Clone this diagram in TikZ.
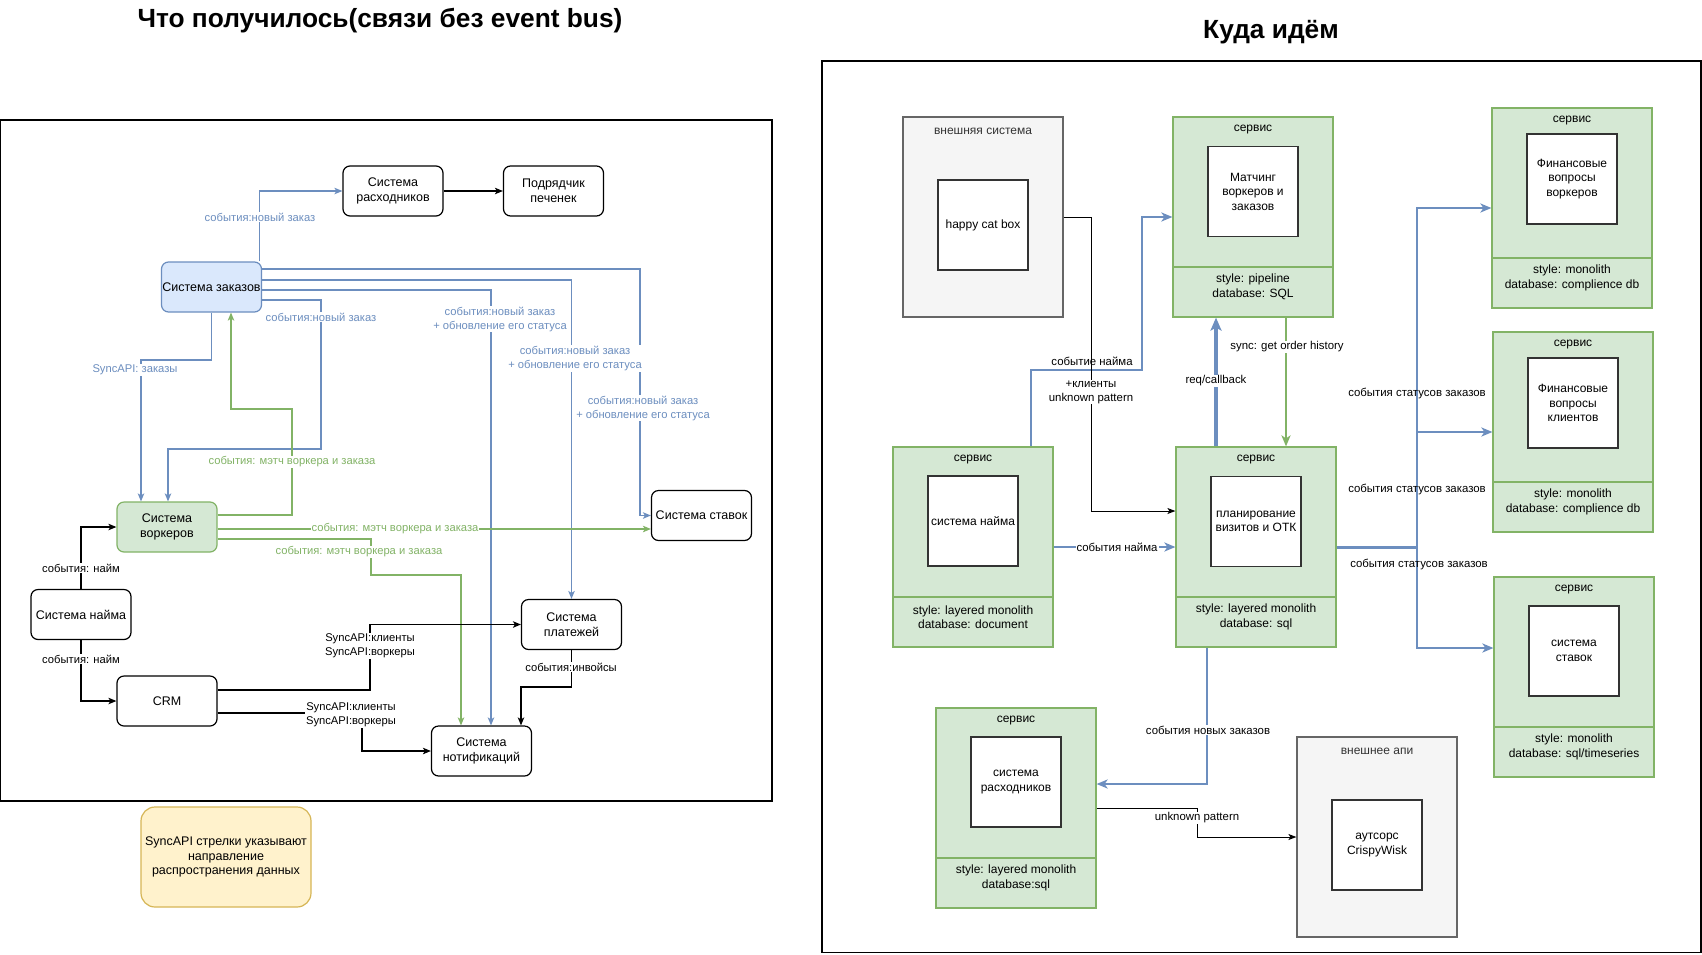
\documentclass[tikz,border=0pt]{standalone}
\usepackage{fontspec}
\setmainfont{Liberation Sans}
\usetikzlibrary{arrows.meta}
\definecolor{gfill}{HTML}{D5E8D4}
\definecolor{gline}{HTML}{82B366}
\definecolor{bfill}{HTML}{DAE8FC}
\definecolor{bline}{HTML}{6C8EBF}
\definecolor{grfill}{HTML}{F5F5F5}
\definecolor{grline}{HTML}{666666}
\definecolor{yfill}{HTML}{FFF2CC}
\definecolor{yline}{HTML}{D6B656}
\definecolor{dtext}{HTML}{333333}
\newcommand{\svcnode}[6]{%
 \node[svcbox] (#1) at (#2+80,#3+100) {};
 \draw[draw=gline, line width=1.2pt] (#2,#3+150) -- (#2+160,#3+150);
 \node[hdr] (#1-h) at (#2+80,#3+13) {сервис};
 \node[inbox] (#1-i) at (#2+80,#3+#6) {#4};
 \node[stl] (#1-s) at (#2+80,#3+170) {#5};
}
\newcommand{\extnode}[5]{%
 \node[extbox] (#1) at (#2+80,#3+100) {};
 \node[hdr, text=dtext] (#1-h) at (#2+80,#3+14) {#4};
 \node[inbox] (#1-i) at (#2+80,#3+108) {#5};
}
\begin{document}
\begin{tikzpicture}[x=1pt,y=-1pt,
 lbox/.style={draw, rounded corners=7pt, line width=1.2pt, minimum width=100pt, minimum height=50pt, align=center, font=\fontsize{12.5}{15}\selectfont, inner sep=0pt},
 blu/.style={draw=bline, line width=1.2pt},
 grn/.style={draw=gline, line width=1.2pt},
 blk/.style={draw=black, line width=1.2pt},
 arr/.style={-{Stealth[length=8pt,width=6.5pt,inset=2pt]}},
 llab/.style={fill=white, inner sep=1pt, font=\fontsize{11.2}{14}\selectfont, align=center},
 svcbox/.style={draw=gline, fill=gfill, line width=1.2pt, minimum width=160pt, minimum height=200pt, inner sep=0pt},
 extbox/.style={draw=grline, fill=grfill, line width=1.2pt, minimum width=160pt, minimum height=200pt, inner sep=0pt},
 inbox/.style={draw=dtext, fill=white, line width=1.2pt, minimum width=90pt, minimum height=90pt, align=center, font=\fontsize{12}{14.5}\selectfont, inner sep=0pt},
 hdr/.style={font=\fontsize{12}{14.5}\selectfont, inner sep=0pt},
 stl/.style={font=\fontsize{12}{14.5}\selectfont, align=center, inner sep=0pt},
 rblu/.style={draw=bline, line width=2pt},
 rgrn/.style={draw=gline, line width=2pt},
 rblk/.style={draw=black, line width=1pt},
 arrB/.style={-{Stealth[length=11pt,width=9pt,inset=3pt]}},
 arrS/.style={-{Stealth[length=8pt,width=6pt,inset=2pt]}},
 rlab/.style={fill=white, inner sep=1pt, font=\fontsize{11.4}{14}\selectfont, align=center},
 rlabn/.style={inner sep=1pt, font=\fontsize{11.4}{14}\selectfont, align=center},
 ttl/.style={font=\bfseries\fontsize{26.3}{30}\selectfont}
]
\useasboundingbox (0,0) rectangle (1702,954);
\fill[white] (0,0) rectangle (1702,954);

% titles
\node[ttl] (t1) at (380,21) {Что получилось(связи без event bus)};
\node[ttl] (t2) at (1271,32) {Куда идём};

% ===== left diagram =====
\draw[line width=1.2pt] (0.6,120) rectangle (772,801);

\node[lbox] (rasx) at (393,191) {Система\\расходников};
\node[lbox] (podr) at (553.5,191) {Подрядчик\\печенек};
\node[lbox, fill=bfill, draw=bline] (zak) at (211.5,287) {Система заказов};
\node[lbox, fill=gfill, draw=gline] (work) at (167,527) {Система\\воркеров};
\node[lbox] (stavki) at (701.5,515.5) {Система ставок};
\node[lbox] (najm) at (81,614.5) {Система найма};
\node[lbox] (plat) at (571.5,624.5) {Система\\платежей};
\node[lbox] (crm) at (167,701) {CRM};
\node[lbox] (notif) at (481.5,751) {Система\\нотификаций};
\node[lbox, fill=yfill, draw=yline, minimum width=170pt, minimum height=100pt, rounded corners=14pt, font=\fontsize{12.5}{14.5}\selectfont] (note) at (226,857) {SyncAPI стрелки указывают\\направление\\распространения данных};

\draw[blu,arr] ([xshift=48pt]zak.north) |- (rasx.west);
\draw[blu,arr] ([yshift=18pt]zak.east) -| (640,515.5) -- (stavki.west);
\draw[blu,arr] ([yshift=7pt]zak.east) -| (plat.north);
\draw[blu,arr] ([yshift=-3pt]zak.east) -| ([xshift=9.5pt]notif.north);
\draw[blu,arr] ([yshift=-13pt]zak.east) -| (321,449) -| ([xshift=1pt]work.north);
\draw[blu,arr] (zak.south) |- (141,360) -- ([xshift=-26pt]work.north);
\draw[grn,arr] ([yshift=12pt]work.east) -| (292,409) -| ([xshift=19.5pt]zak.south);
\draw[grn,arr] ([yshift=-2pt]work.east) -- ([yshift=-2pt]work.east -| stavki.west);
\draw[grn,arr] ([yshift=-12pt]work.east) -| (371,575) -| ([xshift=-20.5pt]notif.north);
\draw[blk,arr] (najm.north) |- (work.west);
\draw[blk,arr] (najm.south) |- (crm.west);
\draw[blk,arr] ([yshift=11pt]crm.east) -| (370,624.5) -- (plat.west);
\draw[blk,arr] ([yshift=-12pt]crm.east) -| (362,751) -- (notif.west);
\draw[blk,arr] (plat.south) |- (521,687) -- ([xshift=39.5pt]notif.north);
\draw[blk,arr] (rasx.east) -- (podr.west);

\node[llab, text=bline] (l1) at (260,217) {события:новый заказ};
\node[llab, text=bline] (l2) at (321,317) {события:новый заказ};
\node[llab, text=bline] (l3) at (500,319) {события:новый заказ\\+ обновление его статуса};
\node[llab, text=bline] (l4) at (575,358.5) {события:новый заказ\\+ обновление его статуса};
\node[llab, text=bline] (l5) at (643,408) {события:новый заказ\\+ обновление его статуса};
\node[llab, text=bline] (l6) at (135,370) {SyncAPI: заказы};
\node[llab, text=gline] (l7) at (292,462) {события: мэтч воркера и заказа};
\node[llab, text=gline] (l8) at (395,529) {события: мэтч воркера и заказа};
\node[llab, text=gline] (l9) at (359,552) {события: мэтч воркера и заказа};
\node[llab] (l10) at (81,568) {события: найм};
\node[llab] (l11) at (81,659) {события: найм};
\node[llab] (l12) at (370,646) {SyncAPI:клиенты\\SyncAPI:воркеры};
\node[llab] (l13) at (351,715) {SyncAPI:клиенты\\SyncAPI:воркеры};
\node[llab] (l14) at (571,667) {события:инвойсы};

% ===== right diagram =====
\draw[line width=1.2pt] (822,61) rectangle (1701,952.5);

\extnode{ext}{903}{117}{внешняя система}{happy cat box}
\extnode{extapi}{1297}{737}{внешнее апи}{аутсорс\\CrispyWisk}
\svcnode{match}{1173}{117}{Матчинг\\воркеров и\\заказов}{style: pipeline\\database: SQL}{74.5}
\svcnode{finw}{1492}{108}{Финансовые\\вопросы\\воркеров}{style: monolith\\database: complience db}{71}
\svcnode{fincl}{1493}{332}{Финансовые\\вопросы\\клиентов}{style: monolith\\database: complience db}{71}
\svcnode{stav}{1494}{577}{система\\ставок}{style: monolith\\database: sql/timeseries}{74}
\svcnode{hire}{893}{447}{система найма}{style: layered monolith\\database: document}{74}
\svcnode{plan}{1176}{447}{планирование\\визитов и ОТК}{style: layered monolith\\database: sql}{74.5}
\svcnode{rasr}{936}{708}{система\\расходников}{style: layered monolith\\database:sql}{74}

\node[rlabn] (r1) at (1092,361) {событие найма};
\draw[rblu,arrB] ([xshift=58pt]hire.north) |- (1142,370) |- (match.west);
\draw[rblk,arrS] (ext.east) -| (1091,511) -- ([yshift=36pt]plan.west);
\draw[rblu,arrB] (hire.east) -- (plan.west);
\draw[rblu,line width=3.2pt,-{Stealth[length=13pt,width=11pt,inset=3pt]}] ([xshift=-40pt]plan.north) -- ([xshift=-40pt]plan.north |- match.south);
\draw[rgrn,arrB] ([xshift=30pt]plan.north |- match.south) -- ([xshift=30pt]plan.north);
\draw[rblu,arrB] (plan.east) -| (1417,208) -- (finw.west);
\draw[rblu,arrB] (plan.east) -| (1417,432) -- (fincl.west);
\draw[rblu,arrB] (plan.east) -| (1417,648) -- ([yshift=29pt]stav.west);
\draw[rblu,line width=3pt] (plan.east) -- (1417,547);
\draw[rblu,arrB] ([xshift=-49pt]plan.south) |- ([yshift=24pt]rasr.east);
\draw[rblk,arrS] (rasr.east) -| (1197,837) -- (extapi.west);

\node[rlab] (r2) at (1091,392) {+клиенты\\unknown pattern};
\node[rlab] (r3) at (1117,547) {события найма};
\node[rlab] (r4) at (1216,381) {req/callback};
\node[rlab] (r5) at (1287,347) {sync: get order history};
\node[rlabn] (r6) at (1417,393) {события статусов заказов};
\node[rlabn] (r7) at (1417,489) {события статусов заказов};
\node[rlabn] (r8) at (1419,564) {события статусов заказов};
\node[rlab] (r9) at (1208,730) {события новых заказов};
\node[rlab] (r10) at (1197,818) {unknown pattern};
\end{tikzpicture}
\end{document}
